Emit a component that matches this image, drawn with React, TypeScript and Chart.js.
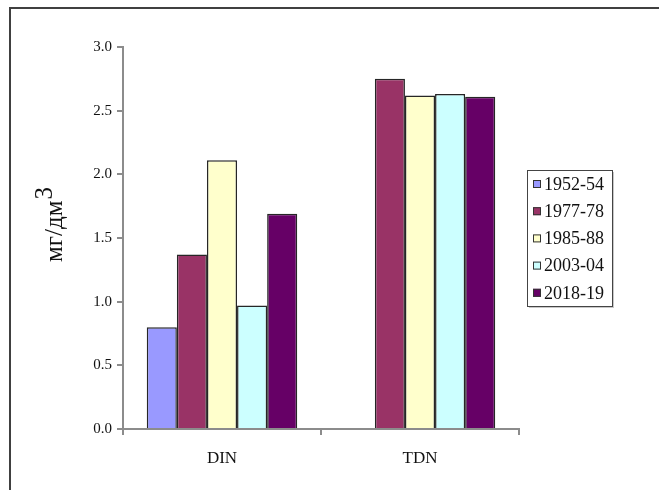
import React, { useEffect, useRef } from "react";
import { Chart, registerables } from "chart.js";

Chart.register(...registerables);

const categories = ["DIN", "TDN"];
const seriesLabels = ["1952-54", "1977-78", "1985-88", "2003-04", "2018-19"];
const values1952 = [0.8, null];
const values1977 = [1.37, 2.75];
const values1985 = [2.11, 2.62];
const values2003 = [0.97, 2.63];
const values2018 = [1.69, 2.61];
const seriesColors = ["#9999FF", "#993366", "#FFFFCC", "#CCFFFF", "#660066"];
const yMin = 0;
const yMax = 3;
const yStep = 0.5;
const yTitle = "мг/дм";
const yTitleSup = "3";

const SERIF = '"Liberation Serif", "Times New Roman", serif';

const overlayPlugin = {
  id: "overlay",
  afterDraw(chart: any) {
    const ctx = chart.ctx;
    // Y-axis title with superscript
    ctx.save();
    ctx.translate(62, 262);
    ctx.rotate(-Math.PI / 2);
    ctx.fillStyle = "#111";
    ctx.textBaseline = "alphabetic";
    ctx.textAlign = "left";
    ctx.font = `25px ${SERIF}`;
    ctx.fillText(yTitle, 0, 0);
    const w = ctx.measureText(yTitle).width;
    ctx.fillText(yTitleSup, w + 1, -10);
    ctx.restore();

    // Legend
    const ds = chart.data.datasets;
    const bx = 527, by = 170, bw = 85, bh = 136;
    ctx.save();
    ctx.fillStyle = "#c8c8c8";
    ctx.fillRect(bx + 2, by + 2, bw, bh);
    ctx.fillStyle = "#fff";
    ctx.fillRect(bx, by, bw, bh);
    ctx.strokeStyle = "#444";
    ctx.lineWidth = 1;
    ctx.strokeRect(bx + 0.5, by + 0.5, bw, bh);
    const rowH = 27.2;
    ctx.font = `18px ${SERIF}`;
    ctx.textBaseline = "middle";
    ctx.textAlign = "left";
    ds.forEach((d: any, i: number) => {
      const cy = by + 14 + i * rowH;
      ctx.fillStyle = d.backgroundColor;
      ctx.fillRect(533, cy - 4, 8, 8);
      ctx.strokeStyle = "#333";
      ctx.strokeRect(533.5, cy - 3.5, 7, 7);
      ctx.fillStyle = "#111";
      ctx.fillText(d.label, 544, cy + 1);
    });
    ctx.restore();
  },
};

export default function App() {
  const ref = useRef<HTMLCanvasElement | null>(null);
  useEffect(() => {
    if (!ref.current) return;
    const series = [values1952, values1977, values1985, values2003, values2018];
    const chart = new Chart(ref.current, {
      type: "bar",
      data: {
        labels: categories,
        datasets: series.map((vals, i) => ({
          label: seriesLabels[i],
          data: vals,
          backgroundColor: seriesColors[i],
          borderColor: "#262626",
          borderWidth: 1.5,
          categoryPercentage: 0.76,
          barPercentage: 1,
        })),
      },
      options: {
        responsive: false,
        animation: false,
        devicePixelRatio: 1,
        layout: { padding: { left: 0, right: 140, top: 47, bottom: 0 } },
        plugins: {
          legend: { display: false },
          tooltip: { enabled: false },
        },
        scales: {
          x: {
            type: "category",
            offset: true,
            grid: {
              display: true,
              drawOnChartArea: false,
              offset: true,
              tickLength: 6,
              color: "#8c8c8c",
              lineWidth: 2,
            },
            border: { display: true, color: "#8c8c8c", width: 2 },
            ticks: {
              color: "#111",
              font: { family: SERIF, size: 17 },
              padding: 13,
              maxRotation: 0,
            },
            afterFit: (s: any) => {
              s.height = 61;
            },
          },
          y: {
            min: yMin,
            max: yMax,
            ticks: {
              stepSize: yStep,
              color: "#111",
              font: { family: SERIF, size: 15 },
              padding: 5,
              callback: (v: any) => Number(v).toFixed(1),
            },
            grid: {
              display: true,
              drawOnChartArea: false,
              tickLength: 6,
              color: "#8c8c8c",
              lineWidth: 2,
            },
            border: { display: true, color: "#8c8c8c", width: 2 },
            afterFit: (s: any) => {
              s.width = 123;
            },
          },
        },
      },
      plugins: [overlayPlugin],
    });
    return () => chart.destroy();
  }, []);

  return (
    <div style={{ position: "absolute", left: 0, top: 0, width: 659, height: 490, background: "#fff" }}>
      <div
        style={{
          position: "absolute",
          left: 9,
          top: 7,
          right: 0,
          bottom: 0,
          borderTop: "2px solid #404040",
          borderLeft: "2px solid #404040",
        }}
      />
      <canvas
        ref={ref}
        width={659}
        height={490}
        style={{ position: "absolute", left: 0, top: 0, display: "block" }}
      />
    </div>
  );
}
